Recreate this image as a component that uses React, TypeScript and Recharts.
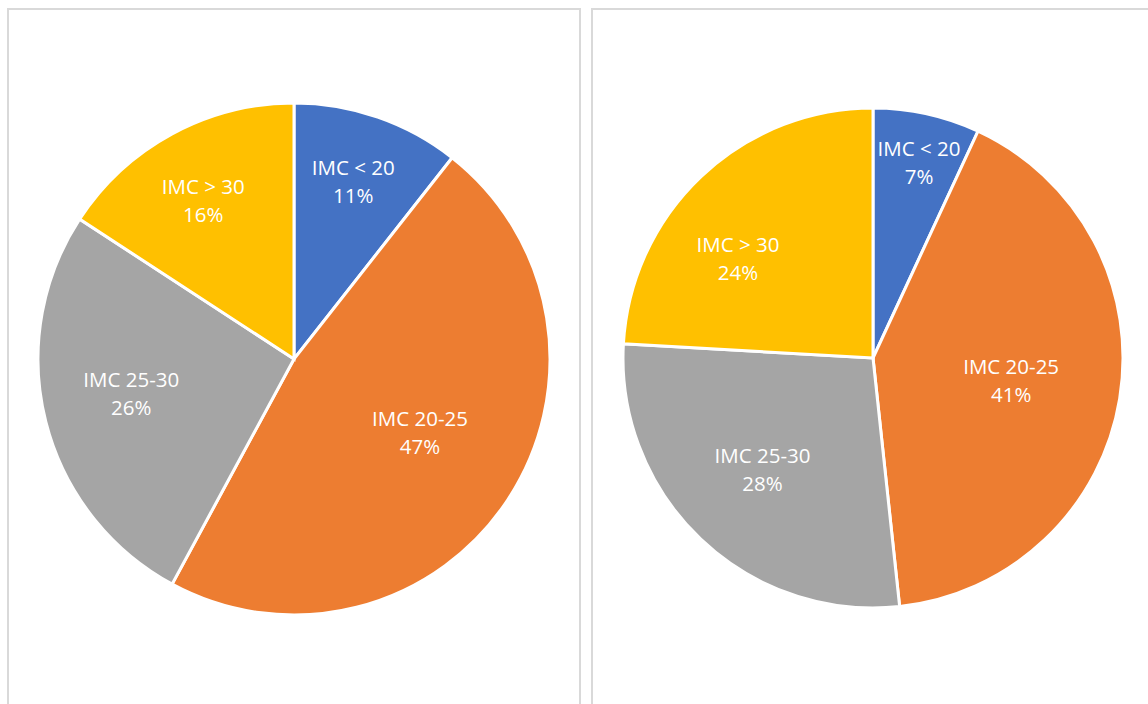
import { PieChart, Pie, Cell } from 'recharts';

const categories = ['IMC < 20', 'IMC 20-25', 'IMC 25-30', 'IMC > 30'];
const leftValues = [10.6, 47.3, 26.3, 15.8];
const rightValues = [6.9, 41.4, 27.6, 24.1];
const colors = ['#4472C4', '#ED7D31', '#A5A5A5', '#FFC000'];

// label placement per slice: radius ratio and clockwise angle shift (deg)
const leftLabelPos = [
  { ratio: 0.73, shift: -0.6 },
  { ratio: 0.57, shift: -3 },
  { ratio: 0.65, shift: 2.2 },
  { ratio: 0.71, shift: -1.5 },
];
const rightLabelPos = [
  { ratio: 0.8, shift: 0.9 },
  { ratio: 0.56, shift: 0 },
  { ratio: 0.63, shift: 1 },
  { ratio: 0.67, shift: -10.3 },
];

const RAD = Math.PI / 180;

interface LabelProps {
  cx: number;
  cy: number;
  midAngle: number;
  outerRadius: number;
  percent: number;
  index: number;
  name: string;
}

const makeLabel = (pos: { ratio: number; shift: number }[]) => (props: LabelProps) => {
  const { cx, cy, midAngle, outerRadius, percent, index, name } = props;
  const p = pos[index];
  const a = (midAngle - p.shift) * RAD;
  const r = outerRadius * p.ratio;
  const x = cx + r * Math.cos(a);
  const y = cy - r * Math.sin(a);
  return (
    <text
      x={x}
      y={y}
      fill="#fff"
      textAnchor="middle"
      fontFamily="'Open Sans', sans-serif"
      fontSize={20.5}
    >
      <tspan x={x} dy={-7}>{name}</tspan>
      <tspan x={x} dy={28}>{Math.round(percent * 100)}%</tspan>
    </text>
  );
};

const toData = (values: number[]) => categories.map((name, i) => ({ name, value: values[i] }));

function PiePanel({ values, pos, width, cx, cy, r }: {
  values: number[];
  pos: { ratio: number; shift: number }[];
  width: number;
  cx: number;
  cy: number;
  r: number;
}) {
  const data = toData(values);
  return (
    <PieChart width={width} height={704} margin={{ top: 0, right: 0, bottom: 0, left: 0 }}>
      <Pie
        data={data}
        dataKey="value"
        nameKey="name"
        cx={cx}
        cy={cy}
        outerRadius={r}
        startAngle={90}
        endAngle={-270}
        stroke="#fff"
        strokeWidth={3}
        label={makeLabel(pos)}
        labelLine={false}
        isAnimationActive={false}
      >
        {data.map((entry, i) => (
          <Cell key={entry.name} fill={colors[i]} />
        ))}
      </Pie>
    </PieChart>
  );
}

export default function App() {
  return (
    <div style={{ position: 'fixed', left: 0, top: 0, width: 1148, height: 704, overflow: 'hidden', background: '#fff' }}>
      <div style={{ position: 'absolute', left: 7, top: 8, width: 574, height: 760, border: '2px solid #d9d9d9', boxSizing: 'border-box' }} />
      <div style={{ position: 'absolute', left: 591, top: 8, width: 620, height: 760, border: '2px solid #d9d9d9', boxSizing: 'border-box' }} />
      <div style={{ position: 'absolute', left: 0, top: 0 }}>
        <PiePanel values={leftValues} pos={leftLabelPos} width={580} cx={294} cy={359} r={256} />
      </div>
      <div style={{ position: 'absolute', left: 592, top: 0 }}>
        <PiePanel values={rightValues} pos={rightLabelPos} width={556} cx={281} cy={358} r={250} />
      </div>
    </div>
  );
}
